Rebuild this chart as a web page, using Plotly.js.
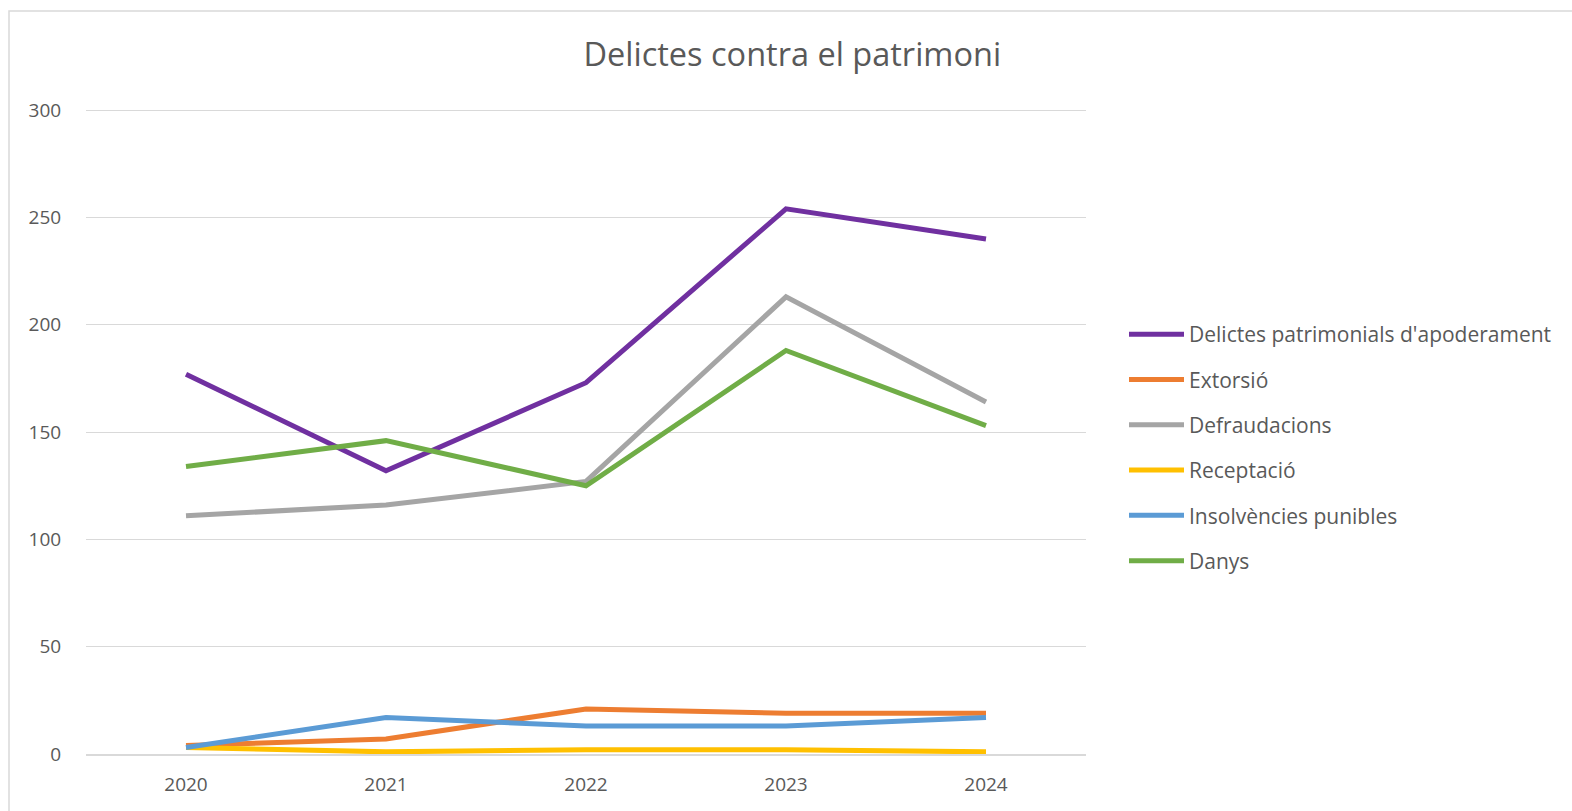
<!DOCTYPE html>
<html>
<head>
<meta charset="utf-8">
<script src="https://cdn.plot.ly/plotly-3.0.1.min.js"></script>
<style>
  html, body { margin: 0; padding: 0; background: #ffffff; }
  #chart { width: 1572px; height: 811px; }
</style>
</head>
<body>
<div id="chart"></div>
<script>
const years = ['2020', '2021', '2022', '2023', '2024'];

const seriesNames = [
  "Delictes patrimonials d'apoderament",
  'Extorsió',
  'Defraudacions',
  'Receptació',
  'Insolvències punibles',
  'Danys'
];

const apoderament = [177, 132, 173, 254, 240];
const extorsio = [4, 7, 21, 19, 19];
const defraudacions = [111, 116, 127, 213, 164];
const receptacio = [3, 1, 2, 2, 1];
const insolvencies = [3, 17, 13, 13, 17];
const danys = [134, 146, 125, 188, 153];

const yTicks = [0, 50, 100, 150, 200, 250, 300];

const seriesValues = [apoderament, extorsio, defraudacions, receptacio, insolvencies, danys];
const seriesColors = ['#7030a0', '#ed7d31', '#a5a5a5', '#ffc000', '#5b9bd5', '#70ad47'];

const FONT = '"Open Sans", "Noto Sans", sans-serif';
const TXT = '#595959';

const traces = seriesValues.map((vals, i) => ({
  type: 'scatter',
  mode: 'lines',
  x: years,
  y: vals,
  name: seriesNames[i],
  legendgroup: 'g' + i,
  line: { color: seriesColors[i], width: 5, shape: 'linear' },
  hoverinfo: 'x+y+name'
}));

const T = 108, B = 57, H = 811;
const plotH = H - T - B;

const layout = {
  width: 1572,
  height: 811,
  paper_bgcolor: '#ffffff',
  plot_bgcolor: '#ffffff',
  margin: { l: 86, r: 486, t: T, b: B },
  font: { family: FONT, color: TXT },
  title: {
    text: 'Delictes contra el patrimoni',
    font: { family: FONT, size: 32.5, color: TXT },
    x: 0.504,
    xref: 'container',
    xanchor: 'center',
    y: 1 - 55 / 811,
    yref: 'container',
    yanchor: 'middle'
  },
  xaxis: {
    type: 'category',
    range: [-0.5, 4.5],
    showgrid: false,
    zeroline: false,
    showline: true,
    linecolor: '#d9d9d9',
    linewidth: 1.5,
    ticks: 'outside',
    ticklen: 12,
    tickcolor: 'rgba(0,0,0,0)',
    tickfont: { family: FONT, size: 19, color: TXT },
    fixedrange: true
  },
  yaxis: {
    range: [0, 301],
    tickvals: yTicks,
    ticktext: yTicks.map(String),
    showgrid: true,
    gridcolor: '#d9d9d9',
    gridwidth: 1.3,
    zeroline: false,
    showline: false,
    ticks: 'outside',
    ticklen: 20,
    tickcolor: 'rgba(0,0,0,0)',
    tickfont: { family: FONT, size: 19, color: TXT },
    fixedrange: true
  },
  legend: {
    x: 1.038,
    xanchor: 'left',
    y: 1 - (314 - T) / plotH,
    yanchor: 'top',
    font: { family: FONT, size: 21, color: TXT },
    tracegroupgap: 15,
    itemwidth: 55,
    bgcolor: 'rgba(0,0,0,0)'
  },
  showlegend: true,
  shapes: [{
    type: 'rect',
    xref: 'paper',
    yref: 'paper',
    x0: (9 - 86) / 1000,
    x1: 1.7,
    y0: -0.3,
    y1: 1 + (T - 11) / plotH,
    line: { color: '#d9d9d9', width: 1.5 },
    fillcolor: 'rgba(0,0,0,0)',
    layer: 'below'
  }]
};

Plotly.newPlot('chart', traces, layout, { displayModeBar: false, responsive: false });
</script>
</body>
</html>
